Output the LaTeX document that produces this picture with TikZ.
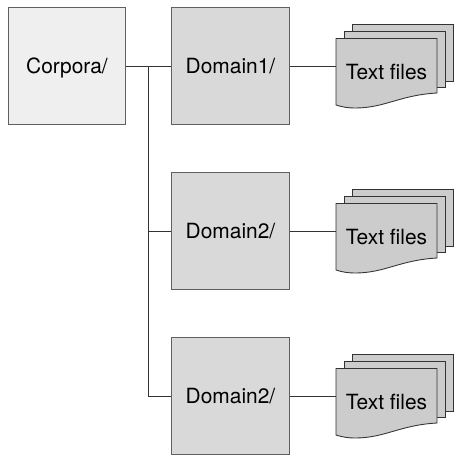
\documentclass[tikz,border=0pt]{standalone}
\usepackage{fontspec}
\setmainfont{TeX Gyre Heros}
\usepackage{xcolor}
\definecolor{edgegray}{HTML}{606060}
\definecolor{linegray}{HTML}{333333}
\definecolor{rootgray}{HTML}{EFEFEF}
\definecolor{domaingray}{HTML}{D9D9D9}
\definecolor{filegray}{HTML}{CCCCCC}
\tikzset{
    caption/.style={font=\fontsize{15.7}{18}\selectfont, text height=10.5pt, text depth=0pt},
    folderbox/.style={caption, draw=edgegray, line width=0.65pt, minimum size=88.2pt, inner sep=0pt},
    sheet/.style={draw=linegray, line width=0.65pt, fill=filegray},
    link/.style={draw=linegray, line width=0.65pt}
}

\begin{document}
\begin{tikzpicture}[x=0.75pt, y=-0.75pt]
    \useasboundingbox (0,0) rectangle (465,462);
    \node [folderbox, fill=rootgray] (corpora) at (67,66) {Corpora/};
    \node [folderbox, fill=domaingray] (domain1) at (230.5,66) {Domain1/};
    \node [folderbox, fill=domaingray] (domain2) at (230.5,231) {Domain2/};
    \node [folderbox, fill=domaingray] (domain3) at (230.5,396) {Domain2/};
    \coordinate (trunk) at (148,66);
    % three stacks of sheets, one per domain
    \foreach \n/\s in {1/0, 2/165, 3/330} {
        \begin{scope}[yshift=-0.75*\s pt]
            \draw [sheet] (352,24) -- (453,24) -- (453,81) -- (352,81) -- cycle;
            \draw [sheet] (344,31) -- (445,31) -- (445,87) -- (344,87) -- cycle;
            \draw [sheet] (336,38.5) -- (437,38.5) -- (437,93)
                .. controls (400,95) and (385,108) .. (355,108)
                .. controls (348,108) and (342,107) .. (336,105) -- cycle;
            \coordinate (files\n) at (336,66);
            \node [caption] (label\n) at (386.5,72) {Text files};
        \end{scope}
        \draw [link] (domain\n) -- (files\n);
    }
    \draw [link] (corpora) -- (domain1);
    \draw [link] (trunk) |- (domain2);
    \draw [link] (trunk) |- (domain3);
\end{tikzpicture}
\end{document}
